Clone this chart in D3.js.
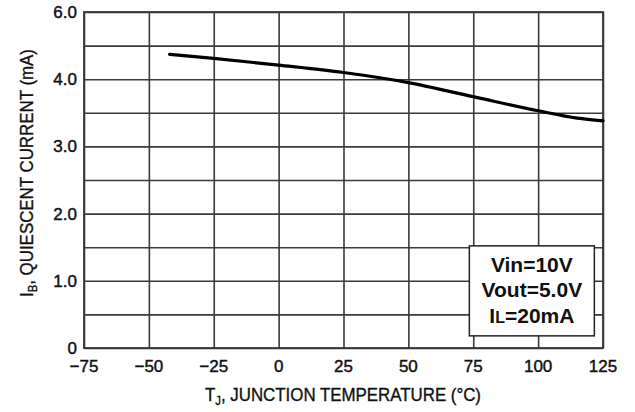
<!DOCTYPE html>
<html lang="en">
<head>
    <meta charset="utf-8">
    <title>Quiescent current vs junction temperature</title>
    <style type="text/css">
        body { margin: 0; background: #fff; }
        .chart text { font-family: 'Liberation Sans', Arial, sans-serif; fill: #111; }
        .grid line { stroke: #3a3a3a; stroke-width: 1.6; }
        .grid path { display: none; }
        .tick-label { font-size: 17px; stroke: #111; stroke-width: 0.45; }
        .axis-title { font-size: 18px; stroke: #111; stroke-width: 0.35; }
        .curve { fill: none; stroke: #000; stroke-width: 3.2; stroke-linecap: round; }
        .note rect { fill: #fff; stroke: #222; stroke-width: 1.5; }
        .note text { font-size: 21px; font-weight: bold; }
    </style>
</head>
<body>
   <svg class="chart" width="635" height="412"></svg>

   <script src="https://d3js.org/d3.v7.min.js"></script>
   <script>
        // data
        var tempC   = [-42, -25, 0, 25, 50, 75, 100, 115, 125];
        var currentMA = [4.37, 4.31, 4.21, 4.10, 3.95, 3.74, 3.53, 3.42, 3.38];

        // tick values / labels (top label on the original sheet reads 6.0)
        var xTicks = [-75, -50, -25, 0, 25, 50, 75, 100, 125];
        var yTicks = [0, 1, 2, 3, 4, 5];
        var yTickLabels = ['0', '1.0', '2.0', '3.0', '4.0', '6.0'];
        var noteLines = ['Vin=10V', 'Vout=5.0V'];

        var svg = d3.select('.chart'),
            padding = {top: 12, right: 32, bottom: 64, left: 84},
            w = 635 - padding.left - padding.right,
            h = 412 - padding.top - padding.bottom;

        var x = d3.scaleLinear().domain([-75, 125]).range([0, w]),
            y = d3.scaleLinear().domain([0, 5]).range([h, 0]);

        var g = svg.append('g')
            .attr('transform', 'translate(' + padding.left + ',' + padding.top + ')');

        // grid (drawn with the axes' tick lines)
        g.append('g')
            .attr('class', 'grid')
            .call(d3.axisBottom(x).tickValues(xTicks).tickSize(h).tickFormat(''));

        g.append('g')
            .attr('class', 'grid')
            .call(d3.axisLeft(y).ticks(10).tickSize(-w).tickFormat(''));

        // frame
        g.append('rect')
            .attr('width', w)
            .attr('height', h)
            .attr('fill', 'none')
            .attr('stroke', '#3a3a3a')
            .attr('stroke-width', 1.8);

        // tick labels
        g.selectAll('.xlab')
            .data(xTicks)
            .enter().append('text')
            .attr('class', 'tick-label')
            .attr('x', function(d) { return x(d); })
            .attr('y', h + 24)
            .attr('text-anchor', 'middle')
            .text(d3.format('d'));

        g.selectAll('.ylab')
            .data(yTicks)
            .enter().append('text')
            .attr('class', 'tick-label')
            .attr('x', -7)
            .attr('y', function(d) { return y(d); })
            .attr('dy', '0.35em')
            .attr('text-anchor', 'end')
            .text(function(d, i) { return yTickLabels[i]; });

        // curve
        var line = d3.line()
            .curve(d3.curveMonotoneX)
            .x(function(d, i) { return x(tempC[i]); })
            .y(function(d) { return y(d); });

        g.append('path')
            .datum(currentMA)
            .attr('class', 'curve')
            .attr('d', line);

        // axis titles
        var xt = svg.append('text')
            .attr('class', 'axis-title')
            .attr('x', 205)
            .attr('y', 401)
            .attr('textLength', 276)
            .attr('lengthAdjust', 'spacingAndGlyphs');
        xt.append('tspan').text('T');
        xt.append('tspan').attr('font-size', '12px').attr('dy', 4).text('J');
        xt.append('tspan').attr('dy', -4).text(', JUNCTION TEMPERATURE (°C)');

        var yt = svg.append('text')
            .attr('class', 'axis-title')
            .attr('transform', 'translate(33,297) rotate(-90)')
            .attr('textLength', 248)
            .attr('lengthAdjust', 'spacingAndGlyphs');
        yt.append('tspan').text('I');
        yt.append('tspan').attr('font-size', '12px').attr('dy', 4).text('B');
        yt.append('tspan').attr('dy', -4).text(', QUIESCENT CURRENT (mA)');

        // conditions box
        var note = g.append('g')
            .attr('class', 'note')
            .attr('transform', 'translate(' + x(73.5) + ',' + y(1.52) + ')');

        note.append('rect')
            .attr('width', 125)
            .attr('height', 90);

        note.selectAll('.nl')
            .data(noteLines)
            .enter().append('text')
            .attr('x', 62.5)
            .attr('y', function(d, i) { return 26 + i * 25.5; })
            .attr('text-anchor', 'middle')
            .text(function(d) { return d; });

        var il = note.append('text')
            .attr('x', 62.5)
            .attr('y', 77)
            .attr('text-anchor', 'middle');
        il.append('tspan').text('I');
        il.append('tspan').attr('font-size', '16px').text('L');
        il.append('tspan').text('=20mA');
   </script>
</body>
</html>
